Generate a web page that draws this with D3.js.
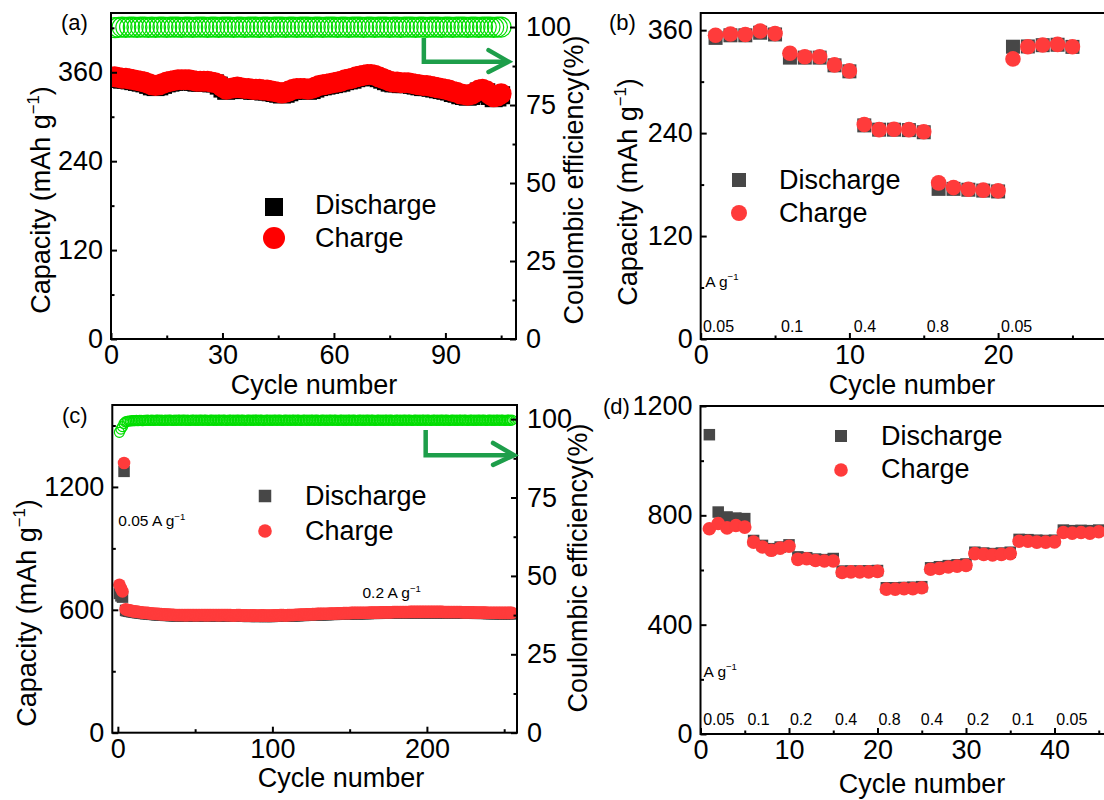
<!DOCTYPE html>
<html>
<head>
<meta charset="utf-8">
<script src="https://cdn.jsdelivr.net/npm/d3@7"></script>
<style>
  body { margin: 0; background: #fff; }
  svg text { font-family: "Liberation Sans", Arial, sans-serif; fill: #000; }
</style>
</head>
<body>
<div id="chart"></div>
<script>
// ---- data ----
// (a) long cycling, cycle number = index + 1
const aCharge = [
  354,353,352,352,351,350,349,348,347,345,
  343,342,343,345,347,348,349,350,350,350,
  350,349,348,348,348,348,347,346,344,340,
  337,338,339,340,339,338,338,337,337,337,
  336,336,335,334,333,332,333,335,337,338,
  338,338,337,338,340,342,343,344,345,346,
  347,348,350,351,352,354,355,356,357,357,
  356,354,352,350,348,347,347,346,346,346,
  345,344,343,342,342,341,340,339,338,337,
  336,334,333,331,330,329,330,333,336,337,
  335,330,327,328,331];
const aDischarge = [
  352,351,350,350,349,348,347,346,345,343,
  341,340,341,343,345,346,347,348,348,348,
  348,347,346,346,346,346,345,345,342,338,
  335,336,337,338,337,336,336,335,335,335,
  334,334,333,332,331,330,331,333,335,336,
  336,336,335,336,338,340,341,342,343,344,
  345,346,348,349,350,352,353,354,355,355,
  354,352,350,348,346,345,345,344,344,344,
  343,342,341,340,340,339,338,337,336,335,
  334,332,331,329,328,327,328,331,334,335,
  333,328,325,326,329];
const aCE = [
  99.8,99.9,100,99.9,100,100,99.9,100,100,99.9,
  100,99.9,100,100,99.9,100,100,100,99.9,100,
  100,99.9,100,100,100,99.9,100,100,99.9,100,
  100,100,99.9,100,100,99.9,100,100,100,99.9,
  100,100,99.9,100,100,100,99.9,100,100,99.9,
  100,100,100,99.9,100,100,99.9,100,100,100,
  99.9,100,100,99.9,100,100,100,99.9,100,100,
  99.9,100,100,100,99.9,100,100,99.9,100,100,
  100,99.9,100,100,99.9,100,100,100,99.9,100,
  100,99.9,100,100,100,99.9,100,100,99.9,100,
  100,100,99.9,100,100];

// (b) rate test
const bCharge = [354,355.5,355,359,356, 333,329,329,319.5,312.5, 250,244,244.5,244,241.5,
                 182,176.5,174.5,173.5,172.7, 326.5,340.7,342.7,343.4,340.7];
const bDischarge = [351,354,354,357,355, 328,328,328,319,312, 249,244,244,243.5,241,
                    175,175,174,173,172, 340.7,341,342.5,343,340.5];
const bRates = ["0.05", "0.1", "0.4", "0.8", "0.05"];
const bRateX = [0.15, 5.4, 10.3, 15.2, 20.2];

// (c) long cycling at 0.2 A/g after activation
const cCharge = [
  722,705,690,1317,
  603,600,598,596,595,593,592,591,590,589,588,587,586,585,585,584,
  583,582,582,581,580,580,579,579,578,578,577,577,577,576,576,576,575,575,575,575,
  575,575,574,574,574,575,575,575,574,574,574,574,575,575,575,574,574,574,574,575,
  575,575,575,574,574,574,575,575,575,574,574,574,574,573,573,573,574,574,574,573,
  573,573,573,572,572,573,573,573,572,572,572,572,573,573,572,572,572,572,572,572,
  573,573,573,573,574,574,574,573,573,574,574,575,575,575,576,576,576,577,577,577,
  577,578,578,578,578,579,579,579,580,580,580,580,581,581,581,581,582,582,582,582,
  582,583,583,583,583,584,584,584,584,584,585,585,585,585,585,585,586,586,586,586,
  586,586,587,587,587,587,587,587,587,588,588,588,588,588,588,588,588,589,589,589,
  589,589,589,589,589,589,589,589,590,590,590,590,590,590,590,590,590,590,590,590,
  590,590,590,590,590,590,590,590,590,590,589,589,589,589,589,589,589,589,589,589,
  589,589,588,588,588,588,588,588,588,588,587,587,587,587,587,587,587,587,586,586,
  586,586,586,586,586,586,585,585,585,585,585,585,585,585,585];
const cDischarge = [
  680,668,662,1276,
  597,595,593,592,591,589,588,587,586,585,584,583,582,581,581,580,
  579,578,578,577,576,576,575,575,574,574,573,573,573,572,572,572,571,571,571,571,
  571,571,570,570,570,571,571,571,570,570,570,570,571,571,571,570,570,570,570,571,
  571,571,571,570,570,570,571,571,571,570,570,570,570,569,569,569,570,570,570,569,
  569,569,569,568,568,569,569,569,568,568,568,568,569,569,568,568,568,568,568,568,
  569,569,569,569,570,570,570,569,569,570,570,571,571,571,572,572,572,573,573,573,
  573,574,574,574,574,575,575,575,576,576,576,576,577,577,577,577,578,578,578,578,
  578,579,579,579,579,580,580,580,580,580,581,581,581,581,581,581,582,582,582,582,
  582,582,583,583,583,583,583,583,583,584,584,584,584,584,584,584,584,585,585,585,
  585,585,585,585,585,585,585,585,586,586,586,586,586,586,586,586,586,586,586,586,
  586,586,586,586,586,586,586,586,586,586,585,585,585,585,585,585,585,585,585,585,
  585,585,584,584,584,584,584,584,584,584,583,583,583,583,583,583,583,583,582,582,
  582,582,582,582,582,582,581,581,581,581,581,581,581,581,581];
const cCE = [
  95.8,96.8,97.6,98.6,99.1,99.3,99.4,99.4,99.5,99.5,
  99.5,99.6,99.5,99.6,99.6,99.5,99.6,99.6,99.7,99.6,
  99.6,99.7,99.6,99.6,99.7,99.7,99.6,99.7,99.6,99.6,
  99.7,99.6,99.7,99.7,99.6,99.6,99.7,99.6,99.7,99.7,
  99.6,99.7,99.7,99.6,99.7,99.6,99.6,99.7,99.7,99.6,
  99.7,99.6,99.7,99.7,99.6,99.7,99.7,99.6,99.6,99.7,
  99.7,99.6,99.7,99.6,99.7,99.7,99.6,99.7,99.7,99.6,
  99.6,99.7,99.7,99.6,99.7,99.6,99.7,99.7,99.6,99.7,
  99.7,99.6,99.6,99.7,99.7,99.6,99.7,99.6,99.7,99.7,
  99.6,99.7,99.7,99.6,99.6,99.7,99.7,99.6,99.7,99.6,
  99.7,99.7,99.6,99.7,99.7,99.6,99.6,99.7,99.7,99.6,
  99.7,99.6,99.7,99.7,99.6,99.7,99.7,99.6,99.6,99.7,
  99.7,99.6,99.7,99.6,99.7,99.7,99.6,99.7,99.7,99.6,
  99.6,99.7,99.7,99.6,99.7,99.6,99.7,99.7,99.6,99.7,
  99.7,99.6,99.6,99.7,99.7,99.6,99.7,99.6,99.7,99.7,
  99.6,99.7,99.7,99.6,99.6,99.7,99.7,99.6,99.7,99.6,
  99.7,99.7,99.6,99.7,99.7,99.6,99.6,99.7,99.7,99.6,
  99.7,99.6,99.7,99.7,99.6,99.7,99.7,99.6,99.6,99.7,
  99.7,99.6,99.7,99.6,99.7,99.7,99.6,99.7,99.7,99.6,
  99.6,99.7,99.7,99.6,99.7,99.6,99.7,99.7,99.6,99.7,
  99.7,99.6,99.6,99.7,99.7,99.6,99.7,99.6,99.7,99.7,
  99.6,99.7,99.7,99.6,99.6,99.7,99.7,99.6,99.7,99.6,
  99.7,99.7,99.6,99.7,99.7,99.6,99.6,99.7,99.7,99.6,
  99.7,99.6,99.7,99.7,99.6,99.7,99.7,99.6,99.6,99.7,
  99.7,99.6,99.7,99.6,99.7,99.7,99.6,99.7,99.7,99.6,
  99.6,99.7,99.7,99.6,99.7];

// (d) rate test
const dDischarge = [1095,812,794,790,788, 708,690,678,684,692, 648,645,640,638,642,
                    596,596,596,597,598, 535,535,536,537,539, 608,612,616,619,622,
                    665,662,660,662,665, 712,711,709,708,709, 746,744,745,744,746];
const dCharge = [751,770,754,763,757, 702,684,672,680,687, 639,641,635,633,633,
                 591,593,593,593,595, 530,530,532,532,535, 603,606,611,614,617,
                 660,657,655,657,660, 705,705,702,702,703, 737,735,737,735,740];
const dRates = ["0.05", "0.1", "0.2", "0.4", "0.8", "0.4", "0.2", "0.1", "0.05"];
const dRateX = [0.3, 5.3, 10.1, 15.2, 20.1, 24.9, 30.1, 35.2, 40.2];

// ---- drawing ----
const W = 1104, H = 800;
const FS = 27;
const green = "#00dd00", arrowGreen = "#1d9e4a";

const svg = d3.select("#chart").append("svg")
  .attr("width", W).attr("height", H);

// writes text with a superscript "−1"
function supText(sel, before, sup, after, size) {
  sel.append("tspan").text(before);
  sel.append("tspan").attr("dy", -size * 0.42).attr("font-size", size * 0.62).text(sup);
  if (after) sel.append("tspan").attr("dy", size * 0.42).attr("font-size", size).text(after);
}

let clipId = 0;
function panel(o) {
  const g = svg.append("g");
  const x = d3.scaleLinear().domain(o.xDom).range([o.x0, o.x1]);
  const y = d3.scaleLinear().domain(o.yDom).range([o.y1, o.y0]);
  const y2 = o.rDom ? d3.scaleLinear().domain(o.rDom).range([o.y1, o.y0]) : null;
  const id = "clip" + (clipId++);
  svg.append("clipPath").attr("id", id).append("rect")
    .attr("x", o.x0).attr("y", o.y0).attr("width", o.x1 - o.x0).attr("height", o.y1 - o.y0);
  const plot = g.append("g").attr("clip-path", `url(#${id})`);
  return { g, plot, x, y, y2, o };
}

function axes(p, xMajor, xMinor, yMajor, yMinor, rMajor, rMinor) {
  const { g, x, y, y2, o } = p;
  const style = s => s.attr("font-size", FS).attr("font-family", "Liberation Sans, Arial, sans-serif")
    .call(s => s.select(".domain").remove())
    .call(s => s.selectAll(".tick line").attr("stroke", "#000").attr("stroke-width", 2));
  g.append("g").attr("transform", `translate(0,${o.y1})`)
    .call(d3.axisBottom(x).tickValues(xMajor).tickSize(-6).tickPadding(6).tickFormat(d3.format("d"))).call(style);
  g.append("g").attr("transform", `translate(0,${o.y1})`)
    .call(d3.axisBottom(x).tickValues(xMinor).tickSize(-3.5).tickFormat(() => "")).call(style);
  g.append("g").attr("transform", `translate(${o.x0},0)`)
    .call(d3.axisLeft(y).tickValues(yMajor).tickSize(-6).tickPadding(8).tickFormat(d3.format("d"))).call(style);
  g.append("g").attr("transform", `translate(${o.x0},0)`)
    .call(d3.axisLeft(y).tickValues(yMinor).tickSize(-3.5).tickFormat(() => "")).call(style);
  if (y2) {
    g.append("g").attr("transform", `translate(${o.x1},0)`)
      .call(d3.axisRight(y2).tickValues(rMajor).tickSize(-6).tickPadding(10).tickFormat(d3.format("d"))).call(style);
    g.append("g").attr("transform", `translate(${o.x1},0)`)
      .call(d3.axisRight(y2).tickValues(rMinor).tickSize(-3.5).tickFormat(() => "")).call(style);
  }
  g.append("rect").attr("x", o.x0).attr("y", o.y0)
    .attr("width", o.x1 - o.x0).attr("height", o.y1 - o.y0)
    .attr("fill", "none").attr("stroke", "#000").attr("stroke-width", 2);
}

function squares(p, data, size, color) {
  p.plot.selectAll(null).data(data).enter().append("rect")
    .attr("x", (d, i) => p.x(i + 1) - size / 2)
    .attr("y", d => p.y(d) - size / 2)
    .attr("width", size).attr("height", size)
    .attr("fill", color);
}
function dots(p, data, r, color) {
  p.plot.selectAll(null).data(data).enter().append("circle")
    .attr("cx", (d, i) => p.x(i + 1))
    .attr("cy", d => p.y(d))
    .attr("r", r).attr("fill", color);
}
function rings(p, data, r) {
  p.plot.selectAll(null).data(data).enter().append("circle")
    .attr("cx", (d, i) => p.x(i + 1))
    .attr("cy", d => p.y2(d))
    .attr("r", r).attr("fill", "none")
    .attr("stroke", green).attr("stroke-width", 1.2);
}

function legend(cx, cy1, cy2, sq, r, dColor, cColor, tx, b1, b2) {
  svg.append("rect").attr("x", cx - sq / 2).attr("y", cy1 - sq / 2)
    .attr("width", sq).attr("height", sq).attr("fill", dColor);
  svg.append("circle").attr("cx", cx).attr("cy", cy2).attr("r", r).attr("fill", cColor);
  svg.append("text").attr("x", tx).attr("y", b1).attr("font-size", FS).text("Discharge");
  svg.append("text").attr("x", tx).attr("y", b2).attr("font-size", FS).text("Charge");
}

// arrow pointing at the right axis
function ceArrow(p, xv, yTop, yMid, xTip, xArm, yArmHi, yArmLo) {
  const { x, y2 } = p;
  p.g.append("path")
    .attr("d", `M${x(xv)},${y2(yTop)}V${y2(yMid)}H${x(xTip) - 2}`)
    .attr("fill", "none").attr("stroke", arrowGreen).attr("stroke-width", 4.5);
  p.g.append("path")
    .attr("d", `M${x(xArm)},${y2(yArmHi)}L${x(xTip)},${y2(yMid)}L${x(xArm)},${y2(yArmLo)}`)
    .attr("fill", "none").attr("stroke", arrowGreen).attr("stroke-width", 4.5)
    .attr("stroke-linecap", "round");
}

function vTitle(xb, yc, size) {
  const t = svg.append("text").attr("transform", `translate(${xb},${yc}) rotate(-90)`)
    .attr("text-anchor", "middle").attr("font-size", size);
  return t;
}

// ---------- (a) ----------
const pa = panel({ x0: 111, x1: 516, y0: 13, y1: 339, xDom: [0, 109], yDom: [0, 440], rDom: [0, 104.5] });
squares(pa, aDischarge, 18, "#000");
dots(pa, aCharge, 10.5, "#ff0000");
rings(pa, aCE, 10);
axes(pa, [0, 30, 60, 90], [15, 45, 75, 105], [0, 120, 240, 360], [60, 180, 300, 420],
     [0, 25, 50, 75, 100], [12.5, 37.5, 62.5, 87.5]);
ceArrow(pa, 84.2, 96.5, 88.9, 107, 101.6, 92.6, 85.6);
legend(274, 207, 238, 18, 11, "#000", "#ff0000", 315, 214, 247);
svg.append("text").attr("x", 61).attr("y", 30).attr("font-size", 22).text("(a)");
supText(vTitle(50, 200, FS), "Capacity (mAh g", "−1", ")", FS);
vTitle(583, 180, FS).text("Coulombic efficiency(%)");
svg.append("text").attr("x", 314).attr("y", 394).attr("text-anchor", "middle")
  .attr("font-size", FS).text("Cycle number");

// ---------- (b) ----------
const pb = panel({ x0: 700.7, x1: 1146.8, y0: 13, y1: 339, xDom: [0, 30], yDom: [0, 380] });
squares(pb, bDischarge, 14, "#474747");
dots(pb, bCharge, 7.8, "#ff3b3b");
axes(pb, [0, 10, 20], [5, 15, 25], [0, 120, 240, 360], [60, 180, 300]);
pb.g.selectAll(null).data(bRates).enter().append("text")
  .attr("x", (d, i) => pb.x(bRateX[i])).attr("y", pb.y(8.5))
  .attr("font-size", 16).text(d => d);
supText(pb.g.append("text").attr("x", pb.x(0.3)).attr("y", pb.y(61)).attr("font-size", 15.5), "A g", "−1", null, 15.5);
legend(739, 180, 213, 14, 8, "#474747", "#ff3b3b", 779, 189, 222);
svg.append("text").attr("x", 609).attr("y", 30).attr("font-size", 22).text("(b)");
supText(vTitle(637, 192, FS), "Capacity (mAh g", "−1", ")", FS);
svg.append("text").attr("x", 912).attr("y", 394).attr("text-anchor", "middle")
  .attr("font-size", FS).text("Cycle number");

// ---------- (c) ----------
const pc = panel({ x0: 112.3, x1: 517, y0: 405, y1: 732.7, xDom: [-3.6, 258.3], yDom: [0, 1600], rDom: [0, 104.5] });
squares(pc, cDischarge, 11.5, "#474747");
dots(pc, cCharge, 6.3, "#ff3b3b");
rings(pc, cCE, 5);
axes(pc, [0, 100, 200], [50, 150, 250], [0, 600, 1200], [300, 900, 1500],
     [0, 25, 50, 75, 100], [12.5, 37.5, 62.5, 87.5]);
ceArrow(pc, 199.2, 96.5, 88.5, 256.4, 242.8, 92.4, 85.4);
supText(pc.g.append("text").attr("x", pc.x(0.3)).attr("y", pc.y(1007)).attr("font-size", 15.5), "0.05 A g", "−1", null, 15.5);
supText(pc.g.append("text").attr("x", pc.x(158.3)).attr("y", pc.y(657)).attr("font-size", 15.5), "0.2 A g", "−1", null, 15.5);
legend(265, 496, 531, 12.5, 6.8, "#474747", "#ff3b3b", 305, 505, 540);
svg.append("text").attr("x", 62).attr("y", 423).attr("font-size", 22).text("(c)");
supText(vTitle(36, 613, FS), "Capacity (mAh g", "−1", ")", FS);
vTitle(587, 568, FS).text("Coulombic efficiency(%)");
svg.append("text").attr("x", 341).attr("y", 787).attr("text-anchor", "middle")
  .attr("font-size", FS).text("Cycle number");

// ---------- (d) ----------
const pd = panel({ x0: 700.5, x1: 1143, y0: 406, y1: 734, xDom: [0, 50], yDom: [0, 1200] });
squares(pd, dDischarge, 11.5, "#474747");
dots(pd, dCharge, 6.8, "#ff3b3b");
axes(pd, [0, 10, 20, 30, 40], [5, 15, 25, 35, 45], [0, 400, 800, 1200], [200, 600, 1000]);
pd.g.selectAll(null).data(dRates).enter().append("text")
  .attr("x", (d, i) => pd.x(dRateX[i])).attr("y", pd.y(33))
  .attr("font-size", 16).text(d => d);
supText(pd.g.append("text").attr("x", pd.x(0.35)).attr("y", pd.y(210)).attr("font-size", 15.5), "A g", "−1", null, 15.5);
legend(841, 436, 470, 12, 6.8, "#474747", "#ff3b3b", 881, 445, 478);
svg.append("text").attr("x", 603).attr("y", 414).attr("font-size", 22).text("(d)");
svg.append("text").attr("x", 922).attr("y", 793).attr("text-anchor", "middle")
  .attr("font-size", FS).text("Cycle number");
</script>
</body>
</html>
